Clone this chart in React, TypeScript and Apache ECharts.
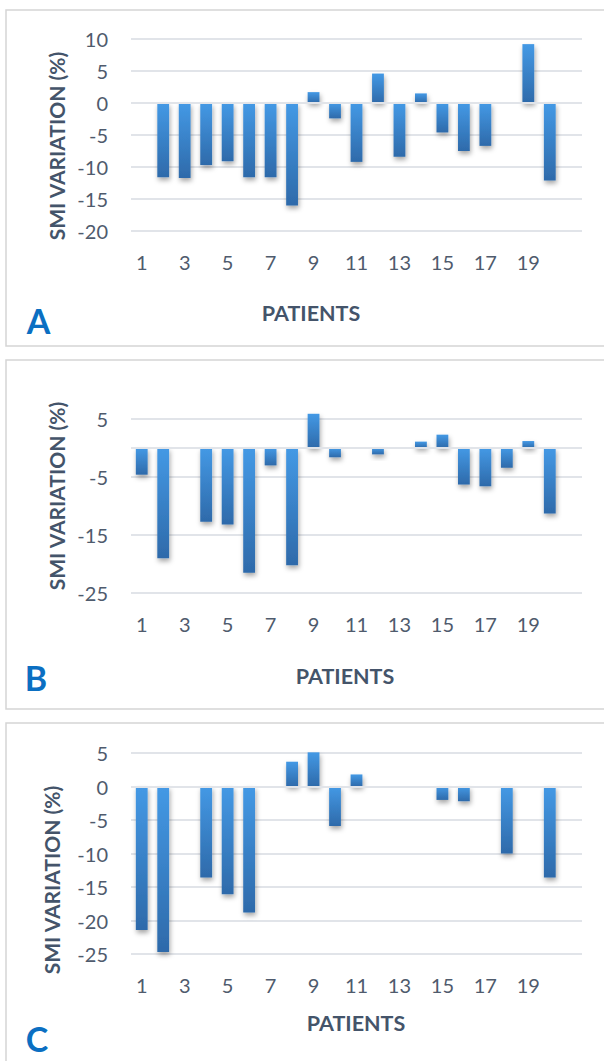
import React, { useEffect, useRef } from "react";
import * as echarts from "echarts";

const patients = ["1", "2", "3", "4", "5", "6", "7", "8", "9", "10", "11", "12", "13", "14", "15", "16", "17", "18", "19", "20", ""];
const smiA = [0, -11.6, -11.7, -9.7, -9.1, -11.6, -11.6, -16.0, 1.7, -2.4, -9.2, 4.6, -8.4, 1.5, -4.6, -7.5, -6.7, 0, 9.2, -12.1, null];
const smiB = [-4.6, -19.0, null, -12.7, -13.2, -21.5, -3.0, -20.2, 5.9, -1.6, null, -1.1, null, 1.1, 2.3, -6.3, -6.6, -3.4, 1.2, -11.3, null];
const smiC = [-21.4, -24.7, null, -13.6, -16.1, -18.8, null, 3.7, 5.1, -5.9, 1.8, null, null, null, -2.0, -2.2, null, -10.0, null, -13.6, null];
const yAxisA = { min: -20, max: 10, interval: 5 };
const yAxisB = { min: -25, max: 5, interval: 10 };
const yAxisC = { min: -25, max: 5, interval: 5 };
const panelLetters = ["A", "B", "C"];
const xTitle = "PATIENTS";
const yTitle = "SMI VARIATION (%)";

const FONT = "Lato, 'Open Sans', 'Noto Sans', sans-serif";
const TICK_COLOR = "#4f5b6d";
const TITLE_COLOR = "#44546a";
const GRID_COLOR = "#e1e4e9";

export default function App() {
  const ref = useRef<HTMLDivElement>(null);

  useEffect(() => {
    if (!ref.current) return;
    const chart = echarts.init(ref.current, null, { renderer: "svg" });

    const grids = [
      { left: 131, top: 39, width: 451, height: 192 },
      { left: 131, top: 419, width: 451, height: 174 },
      { left: 131, top: 753, width: 451, height: 201 },
    ];
    const yCfg = [yAxisA, yAxisB, yAxisC];
    const data = [smiA, smiB, smiC];

    const barColor = new echarts.graphic.LinearGradient(0, 0, 0, 1, [
      { offset: 0, color: "#4499e5" },
      { offset: 1, color: "#2e6aaa" },
    ]);

    const xAxes = grids.map((_, i) => ({
      type: "category",
      gridIndex: i,
      data: patients,
      boundaryGap: true,
      axisLine: { show: false },
      axisTick: { show: false },
      axisLabel: {
        interval: 1,
        margin: 21,
        fontSize: 20,
        color: TICK_COLOR,
        fontFamily: FONT,
      },
      splitLine: { show: false },
    }));

    const yAxes = grids.map((_, i) => ({
      type: "value",
      gridIndex: i,
      min: yCfg[i].min,
      max: yCfg[i].max,
      interval: yCfg[i].interval,
      axisLine: { show: false },
      axisTick: { show: false },
      axisLabel: {
        margin: 23,
        fontSize: 20,
        color: TICK_COLOR,
        fontFamily: FONT,
      },
      splitLine: { show: true, lineStyle: { color: GRID_COLOR, width: 2 } },
    }));

    const series = grids.map((_, i) => ({
      type: "bar",
      xAxisIndex: i,
      yAxisIndex: i,
      data: data[i],
      barWidth: "55%",
      clip: false,
      itemStyle: {
        color: barColor,
        shadowColor: "rgba(0,0,0,0.35)",
        shadowBlur: 5,
        shadowOffsetX: 1,
        shadowOffsetY: 3,
      },
      markLine: {
        silent: true,
        symbol: "none",
        label: { show: false },
        lineStyle: { color: GRID_COLOR, width: 2, type: "solid" },
        data: [{ yAxis: 0 }],
      },
    }));

    const frames = [
      { y: 10, h: 336 },
      { y: 360, h: 349 },
      { y: 723, h: 360 },
    ];
    const letterPos = [
      [38.5, 320],
      [36, 677],
      [37, 1038],
    ];
    const xTitlePos = [
      [311, 313],
      [345, 676],
      [356, 1023],
    ];
    const yTitlePos = [
      [56, 146],
      [56, 496],
      [51, 880],
    ];

    const graphic: any[] = [];
    frames.forEach((f) => {
      graphic.push({
        type: "rect",
        shape: { x: 6, y: f.y, width: 620, height: f.h },
        style: { fill: "none", stroke: "#d5d5d5", lineWidth: 1.5 },
        silent: true,
      });
    });
    panelLetters.forEach((t, i) => {
      graphic.push({
        type: "text",
        x: letterPos[i][0],
        y: letterPos[i][1],
        style: {
          text: t,
          fontSize: 34,
          fontWeight: "bold",
          fontFamily: FONT,
          fill: "#0b6fc2",
          align: "center",
          verticalAlign: "middle",
        },
      });
      graphic.push({
        type: "text",
        x: xTitlePos[i][0],
        y: xTitlePos[i][1],
        style: {
          text: xTitle,
          fontSize: 21.5,
          fontWeight: "bold",
          fontFamily: FONT,
          fill: TITLE_COLOR,
          align: "center",
          verticalAlign: "middle",
        },
      });
      graphic.push({
        type: "text",
        x: yTitlePos[i][0],
        y: yTitlePos[i][1],
        rotation: Math.PI / 2,
        style: {
          text: yTitle,
          fontSize: 21,
          fontWeight: "bold",
          fontFamily: FONT,
          fill: TITLE_COLOR,
          align: "center",
          verticalAlign: "middle",
        },
      });
    });

    chart.setOption({
      animation: false,
      backgroundColor: "#ffffff",
      grid: grids,
      xAxis: xAxes,
      yAxis: yAxes,
      series,
      graphic,
    });

    return () => chart.dispose();
  }, []);

  return (
    <div
      ref={ref}
      style={{ position: "absolute", left: 0, top: 0, width: 604, height: 1061 }}
    />
  );
}
